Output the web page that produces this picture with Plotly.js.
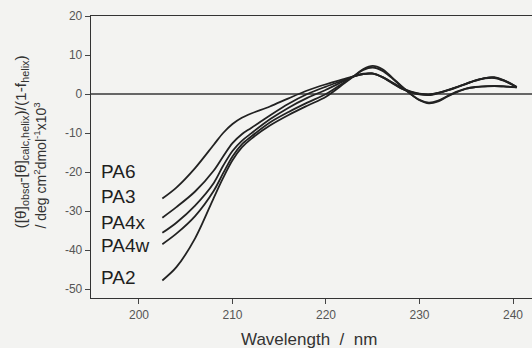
<!DOCTYPE html>
<html>
<head>
<meta charset="utf-8">
<script src="https://cdn.plot.ly/plotly-3.0.1.min.js"></script>
<style>
  html, body { margin: 0; padding: 0; background: #f3f3f1; }
  #chart { width: 532px; height: 348px; }
</style>
</head>
<body>
<div id="chart"></div>
<script>
// Wavelength (nm)
const wavelength = [202.5, 204, 206, 208, 209, 210, 211, 212, 214, 216, 218, 220, 222, 223, 224, 225, 226, 227, 228, 229, 230, 231, 232, 233, 234, 235, 236, 237, 238, 239, 240.4];

const seriesNames = ['PA6', 'PA3', 'PA4x', 'PA4w', 'PA2'];

const PA6  = [-26.8, -24.0, -19.0, -13.0, -10.0, -7.7, -6.1, -5.0, -3.2, -1.1, 0.9, 2.5, 3.9, 4.6, 5.2, 5.2, 4.4, 3.1, 1.7, 0.7, 0.1, -0.1, 0.3, 1.0, 1.8, 2.7, 3.5, 4.1, 4.2, 3.5, 1.8];
const PA3  = [-31.7, -29.0, -25.0, -19.6, -16.0, -12.6, -10.3, -8.7, -5.5, -2.5, 0.0, 1.9, 3.6, 4.5, 5.1, 5.2, 4.3, 2.9, 1.5, 0.6, 0.0, -0.2, 0.3, 1.0, 1.8, 2.6, 3.4, 4.0, 4.1, 3.4, 1.8];
const PA4x = [-35.6, -33.0, -28.6, -22.8, -18.4, -14.6, -12.0, -10.1, -6.5, -3.5, -1.0, 1.1, 3.4, 4.5, 5.1, 5.3, 4.4, 3.0, 1.5, 0.5, -0.1, -0.3, 0.2, 0.9, 1.7, 2.6, 3.5, 4.1, 4.3, 3.6, 1.8];
const PA4w = [-38.5, -35.8, -31.3, -24.8, -20.3, -16.0, -12.9, -10.9, -7.3, -4.6, -2.2, 0.0, 3.1, 4.6, 6.2, 6.8, 6.0, 4.2, 2.1, 0.1, -1.5, -2.2, -1.7, -0.5, 0.6, 1.4, 1.8, 1.9, 2.0, 1.9, 1.7];
const PA2  = [-47.8, -44.4, -37.0, -26.6, -21.5, -17.0, -13.7, -11.5, -8.1, -5.4, -3.0, -0.7, 2.8, 4.6, 6.4, 7.2, 6.4, 4.4, 2.2, 0.1, -1.6, -2.4, -1.9, -0.6, 0.5, 1.4, 1.8, 2.0, 2.1, 2.0, 1.7];

const seriesValues = [PA6, PA3, PA4x, PA4w, PA2];

const xTickVals = [200, 210, 220, 230, 240];
const xTickText = ['200', '210', '220', '230', '240'];
const yTickVals = [-50, -40, -30, -20, -10, 0, 10, 20];
const yTickText = ['-50', '-40', '-30', '-20', '-10', '0', '10', '20'];

const traces = seriesNames.map((name, i) => ({
  type: 'scatter',
  mode: 'lines',
  name: name,
  x: wavelength,
  y: seriesValues[i],
  line: { color: '#222222', width: 1.8, shape: 'spline', smoothing: 0.9 },
  hoverinfo: 'skip'
}));

// label vertical centres in pixels (layout only)
const labelPx = [171, 196, 222, 245, 277];
const plotTop = 16, plotBottom = 298, plotLeft = 91, plotWidth = 441;
const py = p => (plotBottom - p) / (plotBottom - plotTop);
const px = p => (p - plotLeft) / plotWidth;

const annotations = seriesNames.map((name, i) => ({
  text: name,
  xref: 'paper', yref: 'paper',
  x: px(99), y: py(labelPx[i]),
  xanchor: 'left', yanchor: 'middle',
  showarrow: false,
  font: { family: 'Liberation Sans, Arial, sans-serif', size: 19, color: '#1e1e1e' }
}));

annotations.push({
  text: '([θ]<sub>obsd</sub>-[θ]<sub>calc,helix</sub>)/(1-f<sub>helix</sub>)',
  xref: 'paper', yref: 'paper',
  x: px(21), y: py(231),
  xanchor: 'center', yanchor: 'bottom',
  textangle: -90, showarrow: false,
  font: { family: 'Liberation Sans, Arial, sans-serif', size: 15.5, color: '#333333' }
});
annotations.push({
  text: '/ deg cm<sup>2</sup>dmol<sup>-1</sup>x10<sup>3</sup>',
  xref: 'paper', yref: 'paper',
  x: px(40), y: py(231),
  xanchor: 'center', yanchor: 'bottom',
  textangle: -90, showarrow: false,
  font: { family: 'Liberation Sans, Arial, sans-serif', size: 14, color: '#333333' }
});
annotations.push({
  text: 'Wavelength\u00A0\u00A0/\u00A0\u00A0nm',
  xref: 'paper', yref: 'paper',
  x: px(309), y: py(339),
  xanchor: 'center', yanchor: 'middle',
  showarrow: false,
  font: { family: 'Liberation Sans, Arial, sans-serif', size: 17, color: '#333333' }
});

const layout = {
  width: 532, height: 348,
  margin: { l: 91, r: 0, t: 16, b: 50, pad: 0 },
  paper_bgcolor: '#f3f3f1',
  plot_bgcolor: '#f3f3f1',
  showlegend: false,
  xaxis: {
    range: [194.87, 242.03],
    tickvals: xTickVals, ticktext: xTickText,
    ticks: 'outside', ticklen: 5, tickwidth: 1, tickcolor: '#444',
    showgrid: false, zeroline: false,
    showline: true, linecolor: '#333', linewidth: 1.3, mirror: true,
    tickfont: { family: 'Liberation Sans, Arial, sans-serif', size: 12, color: '#555' }
  },
  yaxis: {
    range: [-52.3, 20],
    tickvals: yTickVals, ticktext: yTickText,
    ticks: 'outside', ticklen: 5, tickwidth: 1, tickcolor: '#444',
    showgrid: false,
    zeroline: true, zerolinecolor: '#666', zerolinewidth: 1.3,
    showline: true, linecolor: '#333', linewidth: 1.3,
    tickfont: { family: 'Liberation Sans, Arial, sans-serif', size: 12, color: '#555' }
  },
  annotations: annotations
};

Plotly.newPlot('chart', traces, layout, { staticPlot: true, displayModeBar: false });
</script>
</body>
</html>
